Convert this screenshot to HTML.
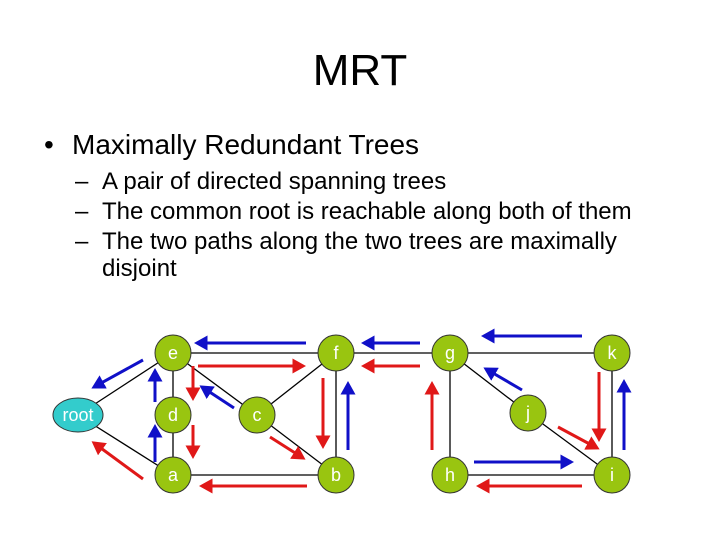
<!DOCTYPE html>
<html><head><meta charset="utf-8"><style>
html,body{margin:0;padding:0;background:#fff}
svg{display:block}
text{font-family:"Liberation Sans",Arial,sans-serif}
</style></head><body>
<svg width="720" height="540" viewBox="0 0 720 540" xmlns="http://www.w3.org/2000/svg">
<defs>
<marker id="hb" markerWidth="5" markerHeight="5" refX="3.5" refY="2.5" orient="auto" markerUnits="strokeWidth"><path d="M0,0 L4.5,2.5 L0,5 z" fill="#1010c8"/></marker>
<marker id="hr" markerWidth="5" markerHeight="5" refX="3.5" refY="2.5" orient="auto" markerUnits="strokeWidth"><path d="M0,0 L4.5,2.5 L0,5 z" fill="#e01818"/></marker>
</defs>
<text x="360" y="85" font-size="44" text-anchor="middle" fill="#000">MRT</text>
<text x="44" y="154" font-size="28" fill="#000">•</text>
<text x="72" y="154" font-size="28" fill="#000">Maximally Redundant Trees</text>
<g font-size="24" fill="#000">
<text x="75" y="189">–</text><text x="102" y="189">A pair of directed spanning trees</text>
<text x="75" y="219">–</text><text x="102" y="219">The common root is reachable along both of them</text>
<text x="75" y="249">–</text><text x="102" y="249">The two paths along the two trees are maximally</text>
<text x="102" y="276">disjoint</text>
</g>
<g stroke="#000" stroke-width="1.3">
<line x1="78" y1="415" x2="173" y2="353"/><line x1="78" y1="415" x2="173" y2="475"/>
<line x1="173" y1="353" x2="336" y2="353"/><line x1="173" y1="353" x2="173" y2="475"/>
<line x1="173" y1="353" x2="257" y2="415"/><line x1="257" y1="415" x2="336" y2="353"/>
<line x1="257" y1="415" x2="336" y2="475"/><line x1="173" y1="475" x2="336" y2="475"/>
<line x1="336" y1="353" x2="336" y2="475"/><line x1="336" y1="353" x2="450" y2="353"/>
<line x1="450" y1="353" x2="612" y2="353"/><line x1="450" y1="353" x2="450" y2="475"/>
<line x1="450" y1="353" x2="528" y2="413"/><line x1="528" y1="413" x2="612" y2="475"/>
<line x1="612" y1="353" x2="612" y2="475"/><line x1="450" y1="475" x2="612" y2="475"/>
</g>
<g stroke="#1010c8" stroke-width="3" marker-end="url(#hb)">
<line x1="306" y1="343" x2="197" y2="343"/>
<line x1="143" y1="360" x2="94" y2="387"/>
<line x1="155" y1="402" x2="155" y2="371"/>
<line x1="155" y1="462" x2="155" y2="427"/>
<line x1="234" y1="408" x2="202" y2="387"/>
<line x1="348" y1="450" x2="348" y2="384"/>
<line x1="420" y1="343" x2="364" y2="343"/>
<line x1="582" y1="336" x2="484" y2="336"/>
<line x1="522" y1="390" x2="486" y2="369"/>
<line x1="624" y1="450" x2="624" y2="382"/>
<line x1="474" y1="462" x2="571" y2="462"/>
</g>
<g stroke="#e01818" stroke-width="3" marker-end="url(#hr)">
<line x1="198" y1="366" x2="303" y2="366"/>
<line x1="143" y1="479" x2="94" y2="443"/>
<line x1="193" y1="366" x2="193" y2="398"/>
<line x1="193" y1="425" x2="193" y2="456"/>
<line x1="270" y1="437" x2="303" y2="458"/>
<line x1="323" y1="378" x2="323" y2="446"/>
<line x1="307" y1="486" x2="202" y2="486"/>
<line x1="420" y1="366" x2="364" y2="366"/>
<line x1="432" y1="450" x2="432" y2="384"/>
<line x1="558" y1="427" x2="597" y2="448"/>
<line x1="599" y1="372" x2="599" y2="439"/>
<line x1="582" y1="486" x2="479" y2="486"/>
</g>
<g stroke="#333" stroke-width="1" fill="#99c510">
<ellipse cx="78" cy="415" rx="25" ry="17" fill="#33cccc"/>
<circle cx="173" cy="353" r="18"/><circle cx="336" cy="353" r="18"/>
<circle cx="173" cy="415" r="18"/><circle cx="257" cy="415" r="18"/>
<circle cx="173" cy="475" r="18"/><circle cx="336" cy="475" r="18"/>
<circle cx="450" cy="353" r="18"/><circle cx="612" cy="353" r="18"/>
<circle cx="528" cy="413" r="18"/><circle cx="450" cy="475" r="18"/>
<circle cx="612" cy="475" r="18"/>
</g>
<g font-size="18" fill="#fff" text-anchor="middle">
<text x="78" y="421">root</text>
<text x="173" y="359">e</text><text x="336" y="359">f</text>
<text x="173" y="421">d</text><text x="257" y="421">c</text>
<text x="173" y="481">a</text><text x="336" y="481">b</text>
<text x="450" y="359">g</text><text x="612" y="359">k</text>
<text x="528" y="419">j</text><text x="450" y="481">h</text>
<text x="612" y="481">i</text>
</g>
</svg>
</body></html>
